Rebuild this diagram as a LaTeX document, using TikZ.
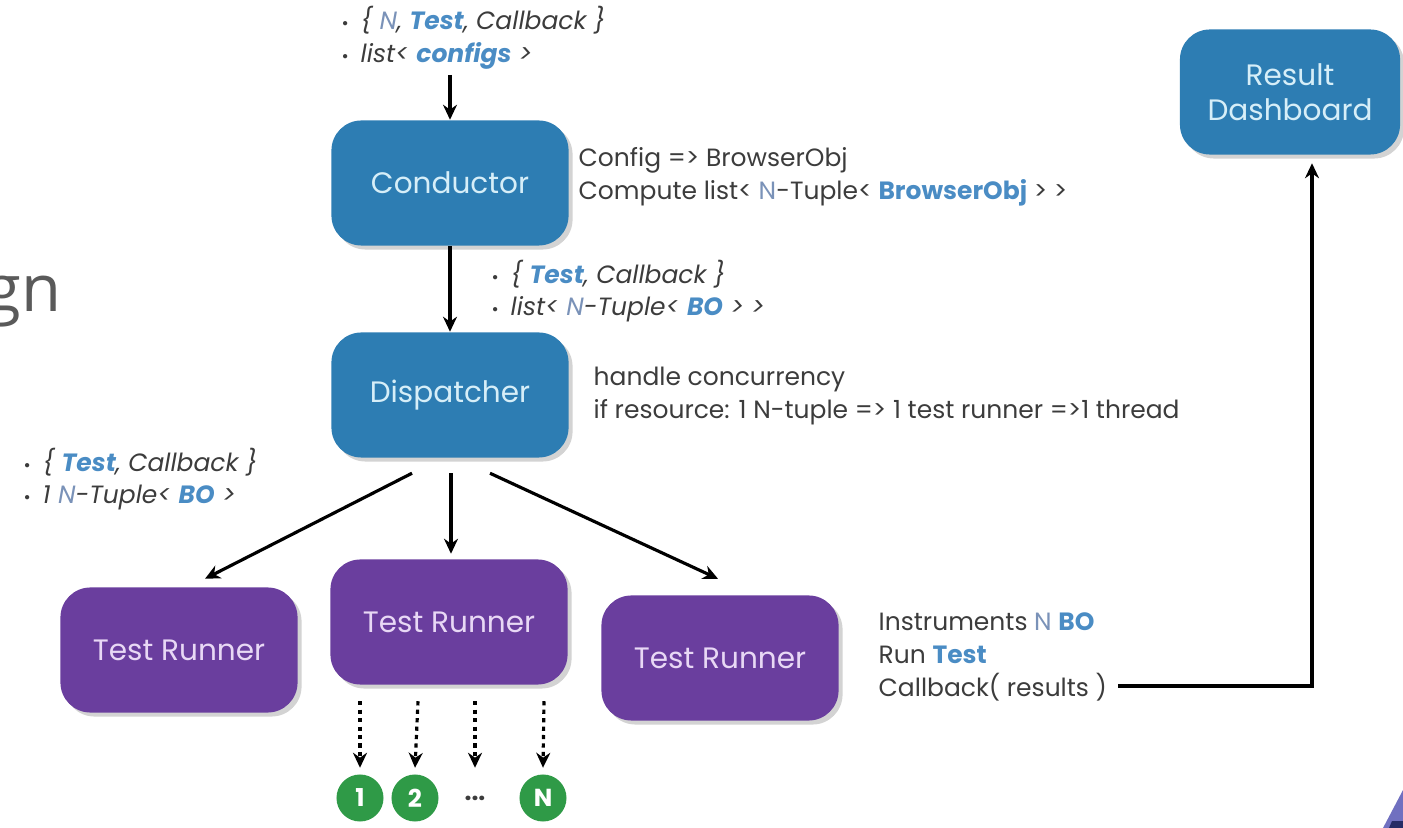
\documentclass[tikz,border=0pt]{standalone}
\usepackage{fontspec}
\setmainfont{Poppins}
\newfontfamily\gnfont{Open Sans}
\usetikzlibrary{arrows.meta, shadows}

\definecolor{condblue}{HTML}{2D7DB3}
\definecolor{runpurple}{HTML}{6A3E9E}
\definecolor{numgreen}{HTML}{2F9A47}
\definecolor{bluetext}{HTML}{D6EEF8}
\definecolor{purptext}{HTML}{E8D8F5}
\definecolor{hlblue}{HTML}{4A8CC4}
\definecolor{nblue}{HTML}{7A92B8}
\definecolor{txtgray}{HTML}{3C3C3C}
\definecolor{gngray}{HTML}{5A5A5A}
\definecolor{decorpurple}{HTML}{7070C0}
\definecolor{decornavy}{HTML}{262C66}

\newcommand{\blu}[1]{\textcolor{hlblue}{\bfseries #1}}
\newcommand{\nb}{\textcolor{nblue}{N}}
\newcommand{\itm}{\makebox[0.19cm][l]{\scalebox{0.7}{\textbullet}}}

\begin{document}
\begin{tikzpicture}[x=0.01cm, y=-0.01cm, font=\fontsize{7.1}{9.3}\selectfont]
\useasboundingbox (0,0) rectangle (1403,828);

\node (gn) at (62,312) [anchor=base east, inner sep=0pt, font=\gnfont\fontsize{18.5}{20}\selectfont, text=gngray] {gn};

\begin{scope}[every node/.style={rounded corners=0.3cm, minimum width=2.37cm, minimum height=1.25cm,
              font=\fontsize{8.4}{10}\selectfont,
              drop shadow={shadow xshift=0.4mm, shadow yshift=-0.4mm, opacity=0.35}}]
    \node (cond) at (450,183) [fill=condblue, text=bluetext] {Conductor};
    \node (disp) at (450,395) [fill=condblue, text=bluetext] {Dispatcher};
    \node (dash) at (1290,92) [fill=condblue, text=bluetext, align=center,
                               minimum width=2.2cm, inner xsep=1pt] {Result\\Dashboard};

    \node (run1) at (179,650) [fill=runpurple, text=purptext] {Test Runner};
    \node (run2) at (449,622) [fill=runpurple, text=purptext] {Test Runner};
    \node (run3) at (720,658) [fill=runpurple, text=purptext] {Test Runner};
\end{scope}

\begin{scope}[every node/.style={circle, minimum size=0.47cm, inner sep=0pt,
              font=\fontsize{7}{8}\selectfont\bfseries, text=white}]
    \node (n1) at (360,798) [fill=numgreen] {1};
    \node (n2) at (415,798) [fill=numgreen] {2};
    \node (ndots) at (475,798) [text=txtgray] {...};
    \node (nn) at (543,798) [fill=numgreen] {N};
\end{scope}

\begin{scope}[every node/.style={anchor=west, align=left, text=txtgray, inner sep=0pt}]
    \node (topnote) at (341,38) {\itm\itshape\{ \nb, \blu{Test}, Callback \}\\\itm\itshape list< \blu{configs} >};
    \node (condnote) at (578,177) {Config => BrowserObj\\Compute list< \nb-Tuple< \blu{BrowserObj} > >};
    \node (dispin) at (491,291) {\itm\itshape\{ \blu{Test}, Callback \}\\\itm\itshape list< \nb-Tuple< \blu{BO} > >};
    \node (dispnote) at (593,396) {handle concurrency\\if resource: 1 N-tuple => 1 test runner =>1 thread};
    \node (runin) at (23,479) {\itm\itshape\{ \blu{Test}, Callback \}\\\itm\itshape 1 \nb-Tuple< \blu{BO} >};
    \node (runnote) at (878,657) {Instruments \nb\ \blu{BO}\\Run \blu{Test}\\Callback( results )};
\end{scope}

\coordinate (ctop) at (450,75);
\coordinate (cb) at (1118,686);

\begin{scope}[>={Stealth[length=1.5mm, width=1.4mm]},
              every edge/.style={draw=black, line width=0.9pt}]
    \path [->] (ctop) edge (cond);
    \path [->] (cond) edge (disp);

    \path [->] ([shift={(-38,15)}]disp.south) edge ([shift={(26,-8)}]run1.north);
    \path [->] ([shift={(1,15)}]disp.south) edge ([shift={(2,-5)}]run2.north);
    \path [->] ([shift={(40,15)}]disp.south) edge ([shift={(-2,-16)}]run3.north);

    \foreach \n/\x in {n1/360, n2/418, ndots/475, nn/544}
        \path [->, dash pattern=on 1.2pt off 1.2pt] ([shift={(\x-449,16)}]run2.south) edge ([yshift=0.06cm]\n.north);

    \draw [->, line width=0.9pt] (cb) -| ([shift={(22,8)}]dash.south);
\end{scope}

% corner decoration
\fill [decorpurple] (1383,828) -- (1403,790) -- (1403,828) -- cycle;
\fill [decornavy] (1392,821) -- (1403,821) -- (1403,828) -- (1389,828) -- cycle;
\end{tikzpicture}
\end{document}
